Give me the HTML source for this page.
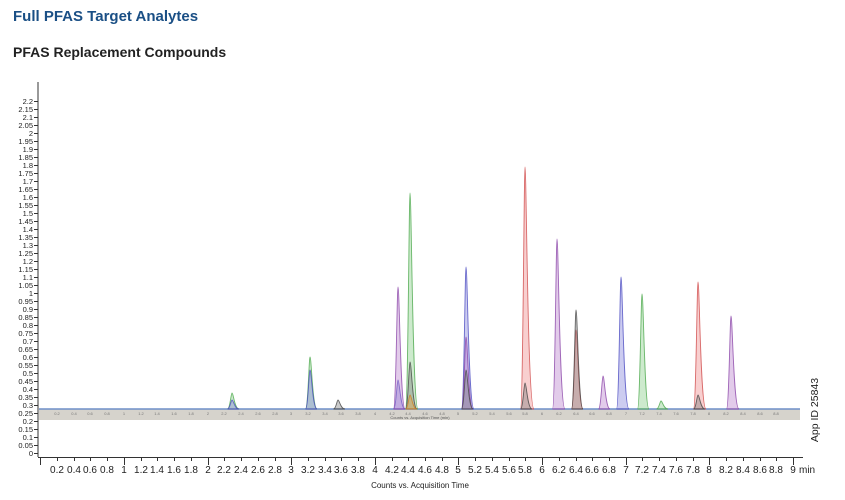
<!DOCTYPE html>
<html><head><meta charset="utf-8"><style>
body{margin:0;background:#fff;width:845px;height:495px;overflow:hidden;font-family:"Liberation Sans",sans-serif}
</style></head><body>
<svg width="845" height="495" xmlns="http://www.w3.org/2000/svg" font-family="Liberation Sans, sans-serif">
<text x="13" y="21" font-size="15" font-weight="bold" fill="#1a4f85">Full PFAS Target Analytes</text>
<text x="13" y="57" font-size="14" font-weight="bold" fill="#222">PFAS Replacement Compounds</text>
<line x1="38" y1="82" x2="38" y2="457" stroke="#333" stroke-width="1"/>
<g font-size="7.5" fill="#222" text-anchor="end">
<text x="33" y="104">2.2</text><text x="33" y="112">2.15</text><text x="33" y="120">2.1</text><text x="33" y="128">2.05</text><text x="33" y="136">2</text><text x="33" y="144">1.95</text><text x="33" y="152">1.9</text><text x="33" y="160">1.85</text><text x="33" y="168">1.8</text><text x="33" y="176">1.75</text><text x="33" y="184">1.7</text><text x="33" y="192">1.65</text><text x="33" y="200">1.6</text><text x="33" y="208">1.55</text><text x="33" y="216">1.5</text><text x="33" y="224">1.45</text><text x="33" y="232">1.4</text><text x="33" y="240">1.35</text><text x="33" y="248">1.3</text><text x="33" y="256">1.25</text><text x="33" y="264">1.2</text><text x="33" y="272">1.15</text><text x="33" y="280">1.1</text><text x="33" y="288">1.05</text><text x="33" y="296">1</text><text x="33" y="304">0.95</text><text x="33" y="312">0.9</text><text x="33" y="320">0.85</text><text x="33" y="328">0.8</text><text x="33" y="336">0.75</text><text x="33" y="344">0.7</text><text x="33" y="352">0.65</text><text x="33" y="360">0.6</text><text x="33" y="368">0.55</text><text x="33" y="376">0.5</text><text x="33" y="384">0.45</text><text x="33" y="392">0.4</text><text x="33" y="400">0.35</text><text x="33" y="408">0.3</text><text x="33" y="416">0.25</text><text x="33" y="424">0.2</text><text x="33" y="432">0.15</text><text x="33" y="440">0.1</text><text x="33" y="448">0.05</text><text x="33" y="456">0</text>
</g>
<path stroke="#333" stroke-width="1" d="M34 101.5h4M34 109.5h4M34 117.5h4M34 125.5h4M34 133.5h4M34 141.5h4M34 149.5h4M34 157.5h4M34 165.5h4M34 173.5h4M34 181.5h4M34 189.5h4M34 197.5h4M34 205.5h4M34 213.5h4M34 221.5h4M34 229.5h4M34 237.5h4M34 245.5h4M34 253.5h4M34 261.5h4M34 269.5h4M34 277.5h4M34 285.5h4M34 293.5h4M34 301.5h4M34 309.5h4M34 317.5h4M34 325.5h4M34 333.5h4M34 341.5h4M34 349.5h4M34 357.5h4M34 365.5h4M34 373.5h4M34 381.5h4M34 389.5h4M34 397.5h4M34 405.5h4M34 413.5h4M34 421.5h4M34 429.5h4M34 437.5h4M34 445.5h4M34 453.5h4"/>
<rect x="39" y="409" width="761" height="11" fill="#d6d3cc"/>
<line x1="39" y1="409" x2="800" y2="409" stroke="#6f8fc8" stroke-width="1.5"/>
<text x="420" y="419" font-size="4" fill="#555" text-anchor="middle">Counts vs. Acquisition Time (min)</text>
<g font-size="4" fill="#777" text-anchor="middle">
<text x="57" y="415">0.2</text><text x="74" y="415">0.4</text><text x="90" y="415">0.6</text><text x="107" y="415">0.8</text><text x="124" y="415">1</text><text x="141" y="415">1.2</text><text x="157" y="415">1.4</text><text x="174" y="415">1.6</text><text x="191" y="415">1.8</text><text x="208" y="415">2</text><text x="224" y="415">2.2</text><text x="241" y="415">2.4</text><text x="258" y="415">2.6</text><text x="275" y="415">2.8</text><text x="291" y="415">3</text><text x="308" y="415">3.2</text><text x="325" y="415">3.4</text><text x="341" y="415">3.6</text><text x="358" y="415">3.8</text><text x="375" y="415">4</text><text x="392" y="415">4.2</text><text x="408" y="415">4.4</text><text x="425" y="415">4.6</text><text x="442" y="415">4.8</text><text x="458" y="415">5</text><text x="475" y="415">5.2</text><text x="492" y="415">5.4</text><text x="509" y="415">5.6</text><text x="525" y="415">5.8</text><text x="542" y="415">6</text><text x="559" y="415">6.2</text><text x="576" y="415">6.4</text><text x="592" y="415">6.6</text><text x="609" y="415">6.8</text><text x="626" y="415">7</text><text x="642" y="415">7.2</text><text x="659" y="415">7.4</text><text x="676" y="415">7.6</text><text x="693" y="415">7.8</text><text x="709" y="415">8</text><text x="726" y="415">8.2</text><text x="743" y="415">8.4</text><text x="760" y="415">8.6</text><text x="776" y="415">8.8</text>
</g>
<g stroke-width="0.9" fill-opacity="0.38" stroke-opacity="0.8">
<g fill="#7cc87c" stroke="#4aa84a">
<path d="M227.5 409c2.5 0 3.5-16 4.5-16c1.5 0 2.5 16 7 16z"/>
<path d="M305.5 409c2.5 0 3.5-52 4.5-52c1.5 0 2.5 52 7 52z"/>
<path d="M405.5 409c2.5 0 3.5-216 4.5-216c1.5 0 2.5 216 8 216z"/>
<path d="M637.5 409c2.5 0 3.5-115 4.5-115c1.5 0 2.5 115 7 115z"/>
<path d="M656.5 409c2.5 0 3.5-8 4.5-8c1.5 0 2.5 8 7 8z"/>
</g>
<g fill="#7a7ad8" stroke="#4a4ac0">
<path d="M227.5 409c2.5 0 3.5-9 4.5-9c1.5 0 2.5 9 7 9z"/>
<path d="M305.5 409c2.5 0 3.5-39 4.5-39c1.5 0 2.5 39 7 39z"/>
<path d="M393.5 409c2.5 0 3.5-29 4.5-29c1.5 0 2.5 29 7 29z"/>
<path d="M461.5 409c2.5 0 3.5-142 4.5-142c1.5 0 2.5 142 8 142z"/>
<path d="M616.5 409c2.5 0 3.5-132 4.5-132c1.5 0 2.5 132 8 132z"/>
</g>
<g fill="#b276c8" stroke="#8a44a8">
<path d="M393.5 409c2.5 0 3.5-122 4.5-122c1.5 0 2.5 122 7 122z"/>
<path d="M461.5 409c2.5 0 3.5-72 4.5-72c1.5 0 2.5 72 7 72z"/>
<path d="M552.5 409c2.5 0 3.5-170 4.5-170c1.5 0 2.5 170 8 170z"/>
<path d="M598.5 409c2.5 0 3.5-33 4.5-33c1.5 0 2.5 33 7 33z"/>
<path d="M726.5 409c2.5 0 3.5-93 4.5-93c1.5 0 2.5 93 8 93z"/>
</g>
<g fill="#ec8080" stroke="#d04848">
<path d="M520.5 409c2.5 0 3.5-242 4.5-242c1.5 0 2.5 242 9 242z"/>
<path d="M571.5 409c2.5 0 3.5-79 4.5-79c1.5 0 2.5 79 7 79z"/>
<path d="M693.5 409c2.5 0 3.5-127 4.5-127c1.5 0 2.5 127 8 127z"/>
</g>
<g fill="#777" stroke="#444">
<path d="M333.5 409c2.5 0 3.5-9 4.5-9c1.5 0 2.5 9 7 9z"/>
<path d="M405.5 409c2.5 0 3.5-47 4.5-47c1.5 0 2.5 47 7 47z"/>
<path d="M461.5 409c2.5 0 3.5-39 4.5-39c1.5 0 2.5 39 7 39z"/>
<path d="M520.5 409c2.5 0 3.5-26 4.5-26c1.5 0 2.5 26 7 26z"/>
<path d="M571.5 409c2.5 0 3.5-99 4.5-99c1.5 0 2.5 99 7 99z"/>
<path d="M693.5 409c2.5 0 3.5-14 4.5-14c1.5 0 2.5 14 7 14z"/>
</g>
<g fill="#e8a040" stroke="#d08020">
<path d="M405.5 409c2.5 0 3.5-14 4.5-14c1.5 0 2.5 14 7 14z"/>
</g>
</g>
<line x1="38" y1="457.5" x2="803" y2="457.5" stroke="#333"/>
<path stroke="#333" d="M40.5 457v8M57.5 457v4M74.5 457v4M90.5 457v4M107.5 457v4M124.5 457v8M141.5 457v4M157.5 457v4M174.5 457v4M191.5 457v4M208.5 457v8M224.5 457v4M241.5 457v4M258.5 457v4M275.5 457v4M291.5 457v8M308.5 457v4M325.5 457v4M341.5 457v4M358.5 457v4M375.5 457v8M392.5 457v4M408.5 457v4M425.5 457v4M442.5 457v4M458.5 457v8M475.5 457v4M492.5 457v4M509.5 457v4M525.5 457v4M542.5 457v8M559.5 457v4M576.5 457v4M592.5 457v4M609.5 457v4M626.5 457v8M642.5 457v4M659.5 457v4M676.5 457v4M693.5 457v4M709.5 457v8M726.5 457v4M743.5 457v4M760.5 457v4M776.5 457v4M793.5 457v8"/>
<g font-size="10" fill="#222" text-anchor="middle">
<text x="57" y="473">0.2</text><text x="74" y="473">0.4</text><text x="90" y="473">0.6</text><text x="107" y="473">0.8</text><text x="124" y="473">1</text><text x="141" y="473">1.2</text><text x="157" y="473">1.4</text><text x="174" y="473">1.6</text><text x="191" y="473">1.8</text><text x="208" y="473">2</text><text x="224" y="473">2.2</text><text x="241" y="473">2.4</text><text x="258" y="473">2.6</text><text x="275" y="473">2.8</text><text x="291" y="473">3</text><text x="308" y="473">3.2</text><text x="325" y="473">3.4</text><text x="341" y="473">3.6</text><text x="358" y="473">3.8</text><text x="375" y="473">4</text><text x="392" y="473">4.2</text><text x="408" y="473">4.4</text><text x="425" y="473">4.6</text><text x="442" y="473">4.8</text><text x="458" y="473">5</text><text x="475" y="473">5.2</text><text x="492" y="473">5.4</text><text x="509" y="473">5.6</text><text x="525" y="473">5.8</text><text x="542" y="473">6</text><text x="559" y="473">6.2</text><text x="576" y="473">6.4</text><text x="592" y="473">6.6</text><text x="609" y="473">6.8</text><text x="626" y="473">7</text><text x="642" y="473">7.2</text><text x="659" y="473">7.4</text><text x="676" y="473">7.6</text><text x="693" y="473">7.8</text><text x="709" y="473">8</text><text x="726" y="473">8.2</text><text x="743" y="473">8.4</text><text x="760" y="473">8.6</text><text x="776" y="473">8.8</text><text x="793" y="473">9</text>
</g>
<text x="799" y="473" font-size="10" fill="#222">min</text>
<text x="420" y="488" font-size="8" fill="#222" text-anchor="middle">Counts vs. Acquisition Time</text>
<text transform="translate(818,410) rotate(-90)" font-size="10.5" fill="#222" text-anchor="middle">App ID 25843</text>
</svg>
</body></html>
